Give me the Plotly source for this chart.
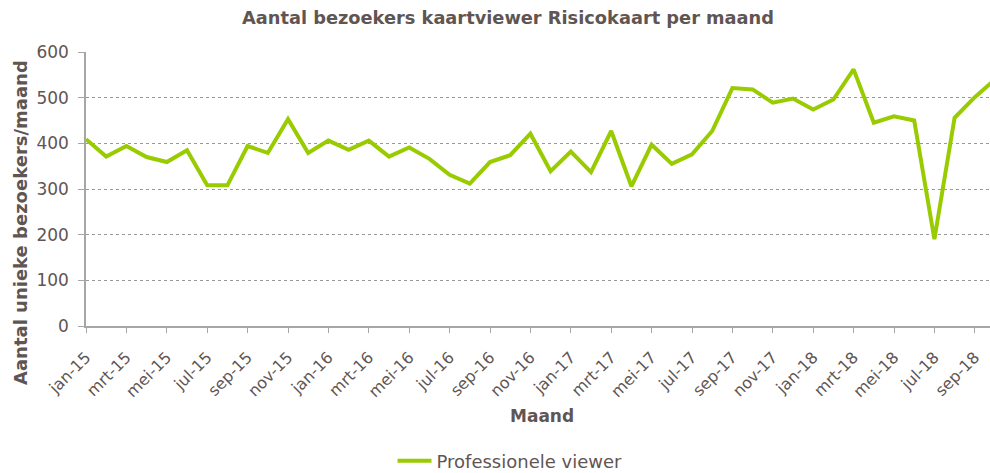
import plotly.graph_objects as go

months = ["jan-15","feb-15","mrt-15","apr-15","mei-15","jun-15","jul-15","aug-15","sep-15","okt-15","nov-15","dec-15",
          "jan-16","feb-16","mrt-16","apr-16","mei-16","jun-16","jul-16","aug-16","sep-16","okt-16","nov-16","dec-16",
          "jan-17","feb-17","mrt-17","apr-17","mei-17","jun-17","jul-17","aug-17","sep-17","okt-17","nov-17","dec-17",
          "jan-18","feb-18","mrt-18","apr-18","mei-18","jun-18","jul-18","aug-18","sep-18","okt-18"]
values = [409, 371, 394, 370, 359, 385, 308, 308, 394, 379, 453, 379,
          406, 386, 406, 371, 391, 366, 331, 312, 359, 374, 421, 339,
          382, 337, 427, 306, 397, 355, 376, 427, 521, 518, 489, 498,
          474, 496, 562, 445, 459, 450, 190, 456, 501, 540]
series_name = "Professionele viewer"
title = "Aantal bezoekers kaartviewer Risicokaart per maand"
y_title = "Aantal unieke bezoekers/maand"
x_title = "Maand"

idx = list(range(len(months)))
tickvals = idx[::2]
ticktext = months[::2]

txt = "#5f5552"
axc = "#a6a6a6"
font = "DejaVu Sans, Verdana, sans-serif"

W, H = 990, 473
L, T, B = 86, 52, 147

fig = go.Figure()
fig.add_trace(go.Scatter(x=idx, y=values, mode="lines", name=series_name,
                         line=dict(color="#99cc00", width=4)))

fig.update_layout(
    width=W, height=H,
    paper_bgcolor="white", plot_bgcolor="white",
    margin=dict(l=L, r=0, t=T, b=B, autoexpand=False),
    font=dict(family=font, color=txt),
    title=dict(text="<b>" + title + "</b>", x=508 / W, xanchor="center", y=1 - 18 / H, yanchor="middle",
               font=dict(size=17.8, color=txt, family=font)),
    showlegend=True,
    legend=dict(orientation="h", x=(510 - L) / (W - L), xanchor="center",
                y=-(461 - (H - B)) / (H - B - T), yanchor="middle",
                font=dict(size=18, color=txt), itemwidth=34),
    annotations=[
        dict(text="<b>" + y_title + "</b>", xref="paper", yref="paper",
             x=-(86 - 20) / (W - L), y=(H - B - 223) / (H - B - T), textangle=-90,
             showarrow=False, xanchor="center", yanchor="middle",
             font=dict(size=18, color=txt, family=font)),
        dict(text="<b>" + x_title + "</b>", xref="paper", yref="paper",
             x=(542 - L) / (W - L), y=-(416 - (H - B)) / (H - B - T),
             showarrow=False, xanchor="center", yanchor="middle",
             font=dict(size=17, color=txt, family=font)),
    ],
)
fig.update_xaxes(
    range=[0, (W - L) / 20.2], tickvals=tickvals, ticktext=ticktext, tickangle=-45,
    showgrid=False, showline=True, linecolor=axc, linewidth=1.5,
    ticks="outside", ticklen=5, tickcolor=axc, ticklabelstandoff=9,
    tickfont=dict(size=16, color=txt), automargin=False,
    zeroline=False,
)
fig.update_yaxes(
    range=[0, 600], dtick=100, showgrid=True, gridcolor="#999999", griddash="dot", gridwidth=1,
    showline=True, linecolor=axc, linewidth=1.5,
    ticks="outside", ticklen=6, tickcolor=axc, ticklabelstandoff=6,
    tickfont=dict(size=17, color=txt), automargin=False,
    zeroline=False,
)

fig.write_html("out.html", config={"displayModeBar": False},
               post_script="document.body.style.margin='0';document.body.style.overflow='hidden';")
